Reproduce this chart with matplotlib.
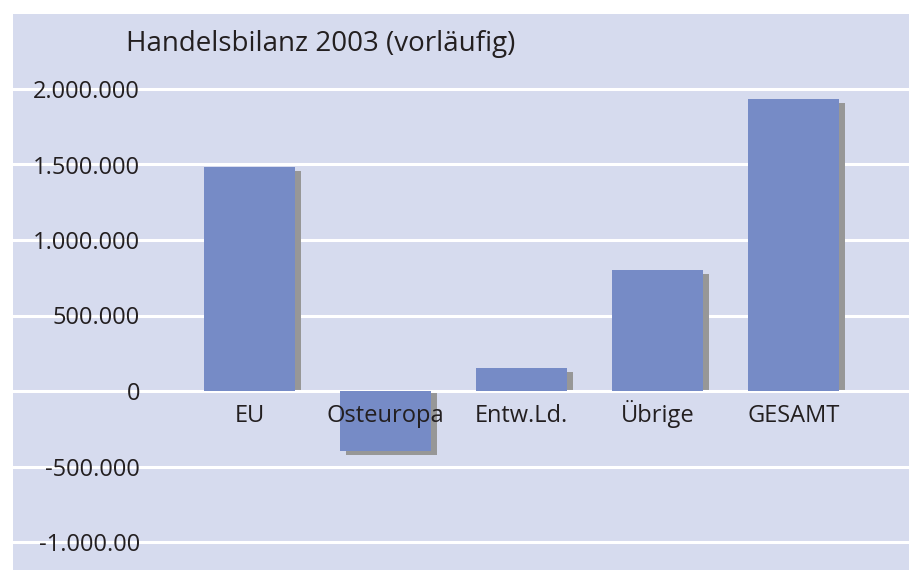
import matplotlib
matplotlib.use("Agg")
import matplotlib.pyplot as plt

categories = ["EU", "Osteuropa", "Entw.Ld.", "Übrige", "GESAMT"]
values = [1483000, -397000, 152000, 801000, 1934000]
ytick_values = [2000000, 1500000, 1000000, 500000, 0, -500000, -1000000]
ytick_labels = ["2.000.000", "1.500.000", "1.000.000", "500.000", "0", "-500.000", "-1.000.00"]
title = "Handelsbilanz 2003 (vorläufig)"

plt.rcParams['font.family'] = ['Open Sans', 'DejaVu Sans']

W, H = 909, 570
fig = plt.figure(figsize=(W / 100, H / 100), dpi=100)
fig.patch.set_facecolor("white")

ax = fig.add_axes([13 / W, 0, (W - 13) / W, (H - 14) / H])
bg = "#D6DBEE"
bar_col = "#768BC6"
shadow_col = "#979797"
txt_col = "#231F20"
ax.set_facecolor(bg)

# scales
px_per_unit_x = 136.0
px_per_val = 75.5 / 500000.0
x0_px = 249.5 - 13
ax.set_xlim(-x0_px / px_per_unit_x, (W - 13 - x0_px) / px_per_unit_x)
zero_px_from_top = 391 - 14
ax.set_ylim(-(H - 14 - zero_px_from_top) / px_per_val, zero_px_from_top / px_per_val)

xs = list(range(len(categories)))
bw = 91 / px_per_unit_x
dx = 6 / px_per_unit_x
dy = 4 / px_per_val

# shadows
ax.bar([x + dx for x in xs], [v - dy for v in values], width=bw, color=shadow_col, zorder=2, linewidth=0)
# bars
ax.bar(xs, values, width=bw, color=bar_col, zorder=3, linewidth=0)

# grid
for yv in ytick_values:
    ax.axhline(yv, color="white", linewidth=2.2, zorder=1 if yv != 0 else 2.5)

for s in ax.spines.values():
    s.set_visible(False)

ax.set_yticks(ytick_values)
ax.set_yticklabels(ytick_labels)
ax.tick_params(axis="y", length=0, pad=-(140 - 13) / 1.389, labelsize=17, labelcolor=txt_col)

ax.spines['bottom'].set_position(('data', 0))
ax.set_xticks(xs)
ax.set_xticklabels(categories)
ax.tick_params(axis="x", length=0, pad=22, labelsize=17, labelcolor=txt_col)
for lbl in ax.get_xticklabels():
    lbl.set_verticalalignment("baseline")
ax.xaxis.set_zorder(5)
ax.yaxis.set_zorder(5)

fig.text(126 / W, 1 - 51 / H, title, fontsize=20, color=txt_col, va="baseline", ha="left")

fig.savefig("out.png", dpi=100, facecolor="white")
